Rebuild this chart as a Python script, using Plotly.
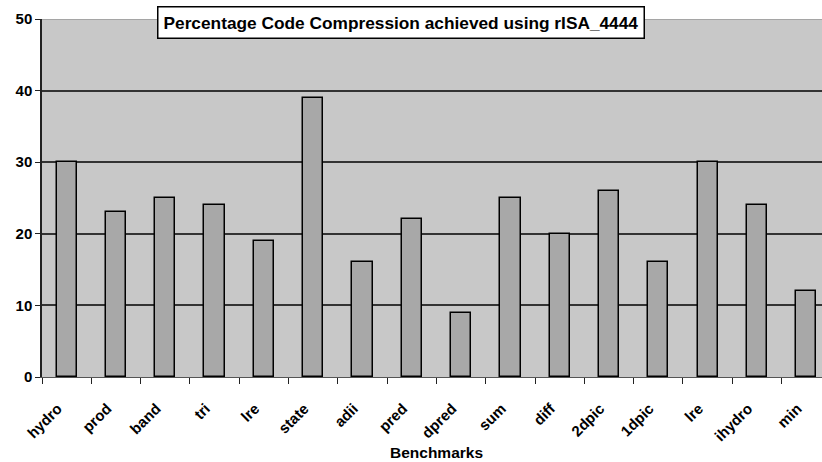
import plotly.graph_objects as go

benchmarks = ["hydro", "prod", "band", "tri", "lre", "state", "adii", "pred", "dpred",
              "sum", "diff", "2dpic", "1dpic", "lre", "ihydro", "min"]
compression = [30, 23, 25, 24, 19, 39, 16, 22, 9, 25, 20, 26, 16, 30, 24, 12]
y_ticks = [0, 10, 20, 30, 40, 50]
grid_ticks = [10, 20, 30, 40]

pos = list(range(len(benchmarks)))
bounds = [i - 0.5 for i in range(len(benchmarks) + 1)]

FONT = "Liberation Sans, Arial, sans-serif"
xr = [-0.5, 15.32]
PAD = "\u00a0\u00a0\u00a0"

fig = go.Figure()
fig.add_trace(go.Bar(x=pos, y=compression, width=0.41,
                     marker=dict(color="#a8a8a8", line=dict(color="#000000", width=1.5)),
                     showlegend=False, hoverinfo="x+y"))

fig.update_layout(
    width=822, height=462,
    margin=dict(l=42, r=0, t=19, b=85),
    paper_bgcolor="white", plot_bgcolor="#c8c8c8",
    font=dict(family=FONT, color="black"),
    bargap=0,
    xaxis=dict(range=xr, tickvals=pos, ticktext=[f"<b>{b}</b>{PAD}" for b in benchmarks], tickangle=-45,
               ticks="outside", ticklen=7, tickcolor="rgba(0,0,0,0)",
               tickfont=dict(size=15, family=FONT, color="black"),
               showgrid=False, zeroline=False, showline=True, linecolor="#555555", linewidth=1.3),
    xaxis2=dict(range=xr, overlaying="x", side="bottom", tickvals=bounds, showticklabels=False,
                ticks="outside", ticklen=6, tickwidth=1.3, tickcolor="#222222",
                showgrid=False, zeroline=False, showline=False),
    yaxis=dict(range=[0, 50], tickvals=y_ticks, ticktext=[f"<b>{t}</b>" for t in y_ticks],
               ticks="outside", ticklen=5, tickwidth=1.3,
               tickcolor="#222222", tickfont=dict(size=15, family=FONT, color="black"),
               showgrid=False, zeroline=False, showline=True, linecolor="#222222", linewidth=1.5),
    yaxis2=dict(range=[0, 50], overlaying="y", tickvals=grid_ticks, showticklabels=False,
                showgrid=True, gridcolor="#333333", gridwidth=1.5, zeroline=False, ticks=""),
    shapes=[dict(type="line", xref="paper", yref="y", x0=0, x1=1, y0=50, y1=50,
                 line=dict(color="#9a9a9a", width=1.5), layer="below")],
    annotations=[
        dict(text="<b>Percentage Code Compression achieved using rISA_4444</b>", xref="paper", yref="paper",
             x=0.460, y=0.990, xanchor="center", yanchor="middle", showarrow=False,
             font=dict(size=17.3, family=FONT, color="black"), bgcolor="white",
             bordercolor="black", borderwidth=1.5, borderpad=5),
        dict(text="<b>Benchmarks</b>", xref="paper", yref="paper", x=0.506, y=-0.212,
             xanchor="center", yanchor="middle", showarrow=False,
             font=dict(size=15.5, family=FONT, color="black")),
    ],
)
# invisible trace to activate overlay axes
fig.add_trace(go.Scatter(x=[xr[0]], y=[0], xaxis="x2", yaxis="y2", mode="markers",
                         marker=dict(opacity=0), showlegend=False, hoverinfo="skip"))

fig.write_html("out.html")
